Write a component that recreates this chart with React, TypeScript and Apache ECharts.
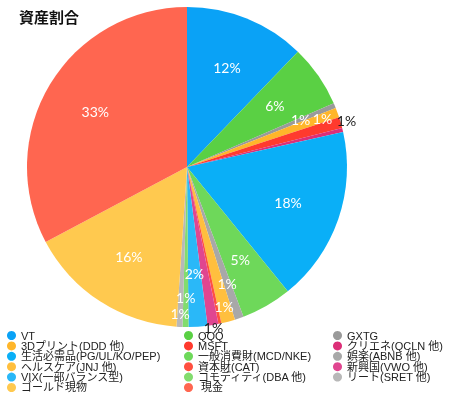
import React, { useEffect, useRef } from "react";
import * as echarts from "echarts";

const names = [
  "VT", "QQQ", "GXTG", "3Dプリント(DDD 他)", "MSFT", "クリエネ(QCLN 他)",
  "生活必需品(PG/UL/KO/PEP)", "一般消費財(MCD/NKE)", "娯楽(ABNB 他)", "ヘルスケア(JNJ 他)",
  "資本財(CAT)", "新興国(VWO 他)", "VIX(一部バランス型)", "コモディティ(DBA 他)",
  "リート(SRET 他)", "ゴールド現物", " 現金",
];
const values = [12.2, 6.3, 0.5, 1.0, 1.1, 0.4, 17.7, 5.1, 0.9, 1.4, 0.3, 1.1, 1.9, 0.6, 0.6, 16.2, 32.8];
const colors = [
  "#0aa2f6", "#5ad044", "#9a9a9a", "#ffb62a", "#ff3a2e", "#dc2f78",
  "#0aaff7", "#6ed85a", "#a8a8a8", "#ffbf3e", "#ff5040", "#e04690",
  "#2ab8f8", "#82dc6e", "#b8b8b8", "#ffc94f", "#ff6650",
];
const legendCol1 = [names[0], names[3], names[6], names[9], names[12], names[15]];
const legendCol2 = [names[1], names[4], names[7], names[10], names[13], names[16]];
const legendCol3 = [names[2], names[5], names[8], names[11], names[14]];

// label radial distances (layout only)
const labelRadius: Record<number, number> = { 2: 123, 3: 144, 4: 166, 8: 123, 9: 144, 11: 163, 13: 131, 14: 147 };
const darkLabels = [4, 11];

const CX = 187;
const CY = 167;

export default function App() {
  const ref = useRef<HTMLDivElement>(null);
  useEffect(() => {
    if (!ref.current) return;
    const chart = echarts.init(ref.current, undefined, { renderer: "svg" });
    const legendBase = {
      orient: "vertical" as const,
      top: 330,
      itemWidth: 9,
      itemHeight: 9,
      itemGap: -0.6,
      icon: "circle",
      textStyle: {
        fontSize: 11,
        lineHeight: 10,
        color: "#222",
        fontFamily: "Liberation Sans, Noto Sans CJK JP, sans-serif",
        padding: [0, 0, 0, 0],
      },
      padding: 0,
      selectedMode: false,
    };
    chart.setOption({
      animation: false,
      color: colors,
      title: {
        text: "資産割合",
        left: 14,
        top: 4,
        textStyle: {
          fontSize: 15,
          fontWeight: "bold",
          color: "#111",
          fontFamily: "Noto Sans CJK JP, sans-serif",
        },
      },
      legend: [
        { ...legendBase, left: 7, data: legendCol1 },
        { ...legendBase, left: 184, data: legendCol2 },
        { ...legendBase, left: 333, data: legendCol3 },
      ],
      series: [
        {
          type: "pie",
          center: [CX, CY],
          radius: 160,
          startAngle: 90,
          avoidLabelOverlap: false,
          data: names.map((n, i) => ({
            name: n,
            value: values[i],
            label: darkLabels.includes(i) ? { color: "#222" } : undefined,
          })),
          label: {
            show: true,
            position: "inside",
            color: "#fff",
            fontSize: 14,
            fontFamily: "Lato, sans-serif",
            formatter: (p: any) => {
              const r = Math.round(p.percent);
              return r > 0 ? r + "%" : "";
            },
          },
          labelLine: { show: false },
          labelLayout: (params: any) => {
            const r = params.labelRect;
            const cx = r.x + r.width / 2;
            const cy = r.y + r.height / 2;
            const dx = cx - CX;
            const dy = cy - CY;
            const len = Math.hypot(dx, dy) || 1;
            const R = labelRadius[params.dataIndex] ?? 107;
            return {
              x: CX + (dx / len) * R,
              y: CY + (dy / len) * R,
              align: "center",
              verticalAlign: "middle",
            };
          },
          itemStyle: { borderWidth: 0 },
          emphasis: { disabled: true },
        },
      ],
    });
    return () => chart.dispose();
  }, []);
  return (
    <div
      ref={ref}
      style={{ width: 450, height: 398, position: "fixed", left: 0, top: 0 }}
    />
  );
}
